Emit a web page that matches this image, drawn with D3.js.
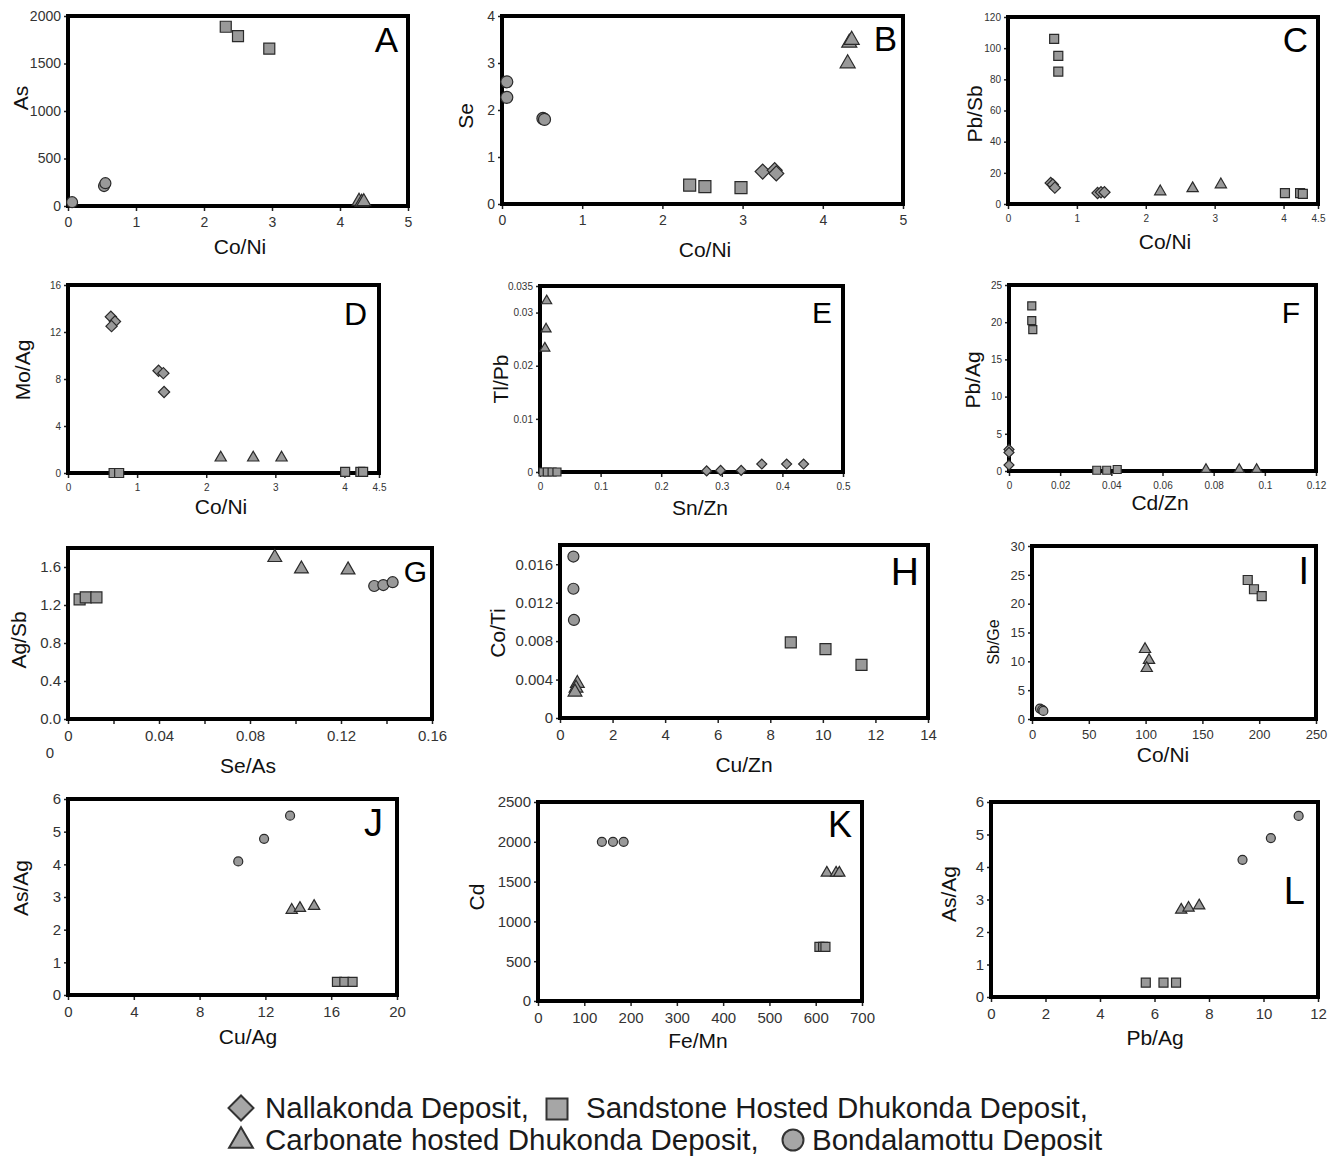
<!DOCTYPE html>
<html>
<head>
<meta charset="utf-8">
<script src="https://cdn.jsdelivr.net/npm/d3@7"></script>
<style>
body { margin: 0; background: #fff; }
svg { display: block; }
text { font-family: "Liberation Sans", Arial, sans-serif; }
</style>
</head>
<body>
<div id="chart"></div>
<script>
// group codes: N = Nallakonda, S = Sandstone hosted Dhukonda, C = Carbonate hosted Dhukonda, B = Bondalamottu
const ptsA = [["B",0.06,40],["B",0.53,210],["B",0.55,240],["S",2.32,1887],["S",2.50,1789],["S",2.96,1656],["C",4.28,50],["C",4.32,40],["C",4.35,45]];
const ptsB = [["B",0.06,2.60],["B",0.06,2.27],["B",0.51,1.82],["B",0.53,1.80],["S",2.34,0.40],["S",2.53,0.37],["S",2.98,0.35],["N",3.25,0.69],["N",3.40,0.72],["N",3.42,0.65],["C",4.31,2.99],["C",4.33,3.43],["C",4.36,3.49]];
const ptsC = [["S",0.67,106],["S",0.73,95],["S",0.73,85],["N",0.62,13.5],["N",0.65,12.5],["N",0.68,10.5],["N",1.30,7],["N",1.35,7.5],["N",1.40,7.5],["C",2.21,8],["C",2.68,10],["C",3.09,12.5],["S",4.02,7],["S",4.24,7],["S",4.28,6.5]];
const ptsD = [["N",0.62,13.3],["N",0.68,12.9],["N",0.63,12.5],["N",1.31,8.7],["N",1.38,8.5],["N",1.39,6.9],["C",2.21,1.3],["C",2.68,1.3],["C",3.09,1.3],["S",0.66,0],["S",0.74,0],["S",4.01,0.1],["S",4.23,0.1],["S",4.27,0.1]];
const ptsE = [["C",0.011,0.0322],["C",0.010,0.0269],["C",0.008,0.0233],["S",0.005,0],["S",0.012,0],["S",0.02,0],["S",0.028,0],["N",0.275,0.0002],["N",0.298,0.0003],["N",0.332,0.0003],["N",0.366,0.0015],["N",0.407,0.0015],["N",0.435,0.0015]];
const ptsF = [["S",0.0089,22.2],["S",0.0089,20.2],["S",0.0093,19.0],["N",0,2.9],["N",0,2.5],["N",0,0.8],["S",0.0343,0.1],["S",0.0382,0.1],["S",0.0423,0.2],["C",0.077,0.2],["C",0.090,0.2],["C",0.0968,0.2]];
const ptsG = [["S",0.0051,1.26],["S",0.0078,1.28],["S",0.0125,1.28],["C",0.0909,1.70],["C",0.1026,1.58],["C",0.1231,1.57],["B",0.1346,1.40],["B",0.1386,1.41],["B",0.1427,1.44]];
const ptsH = [["B",0.51,0.0168],["B",0.51,0.01345],["B",0.53,0.0102],["C",0.66,0.0036],["C",0.61,0.0031],["C",0.57,0.0027],["S",8.78,0.00786],["S",10.10,0.00716],["S",11.47,0.00552]];
const ptsI = [["B",7,1.8],["B",9,1.6],["B",10,1.4],["C",99.5,12.1],["C",103,10.2],["C",101,8.8],["S",189.9,24.1],["S",195.4,22.5],["S",202.2,21.3]];
const ptsJ = [["B",10.35,4.09],["B",11.92,4.78],["B",13.5,5.49],["C",13.6,2.6],["C",14.1,2.66],["C",14.96,2.72],["S",16.35,0.4],["S",16.8,0.4],["S",17.3,0.4]];
const ptsK = [["B",138,2000],["B",162,2000],["B",185,2000],["C",624,1610],["C",644,1610],["C",651,1610],["S",608,680],["S",616,680],["S",621,680]];
const ptsL = [["B",9.23,4.22],["B",10.27,4.89],["B",11.29,5.57],["C",6.98,2.68],["C",7.25,2.74],["C",7.64,2.81],["S",5.68,0.44],["S",6.33,0.44],["S",6.79,0.44]];

// tick values and labels
const xTicksA = [0,1,2,3,4,5], yTicksA = [0,500,1000,1500,2000];
const xTicksB = [0,1,2,3,4,5], yTicksB = [0,1,2,3,4];
const xTicksC = [0,1,2,3,4,4.5], yTicksC = [0,20,40,60,80,100,120];
const xTicksD = [0,1,2,3,4,4.5], yTicksD = [0,4,8,12,16];
const xTicksE = [0,0.1,0.2,0.3,0.4,0.5], yTicksE = [0,0.01,0.02,0.03,0.035];
const xTicksF = [0,0.02,0.04,0.06,0.08,0.1,0.12], yTicksF = [0,5,10,15,20,25];
const xTicksG = [0,0.02,0.04,0.06,0.08,0.1,0.12,0.14,0.16], yTicksG = [0,0.4,0.8,1.2,1.6];
const xLabelsG = ["0","","0.04","","0.08","","0.12","","0.16"], yLabelsG = ["0.0","0.4","0.8","1.2","1.6"];
const xTicksH = [0,2,4,6,8,10,12,14], yTicksH = [0,0.004,0.008,0.012,0.016];
const xTicksI = [0,50,100,150,200,250], yTicksI = [0,5,10,15,20,25,30];
const xTicksJ = [0,4,8,12,16,20], yTicksJ = [0,1,2,3,4,5,6];
const xTicksK = [0,100,200,300,400,500,600,700], yTicksK = [0,500,1000,1500,2000,2500];
const xTicksL = [0,2,4,6,8,10,12], yTicksL = [0,1,2,3,4,5,6];

const legendNames = ["Nallakonda Deposit,", "Sandstone Hosted Dhukonda Deposit,", "Carbonate hosted Dhukonda Deposit,", "Bondalamottu Deposit"];

// layout for each panel
const panels = [
  {id:"A", pts:ptsA, box:[68,16,408,206], xd:[0,5], yd:[0,2000], xt:xTicksA, yt:yTicksA, xTitle:"Co/Ni", yTitle:"As", tf:14, ms:11, tx:240, ty:254, yx:20, yy:98, lx:398, ly:52, lf:35},
  {id:"B", pts:ptsB, box:[502,16,903,204], xd:[0,5], yd:[0,4], xt:xTicksB, yt:yTicksB, xTitle:"Co/Ni", yTitle:"Se", tf:14, ms:12, tx:705, ty:257, yx:465, yy:116, lx:897, ly:51, lf:35},
  {id:"C", pts:ptsC, box:[1008,17,1318,204], xd:[0,4.5], yd:[0,120], xt:xTicksC, yt:yTicksC, xTitle:"Co/Ni", yTitle:"Pb/Sb", tf:10, ms:9, tx:1165, ty:249, yx:974, yy:114, lx:1308, ly:52, lf:35},
  {id:"D", pts:ptsD, box:[68,285,379,473], xd:[0,4.5], yd:[0,16], xt:xTicksD, yt:yTicksD, xTitle:"Co/Ni", yTitle:"Mo/Ag", tf:10, ms:9, tx:221, ty:514, yx:22, yy:370, lx:367, ly:325, lf:32},
  {id:"E", pts:ptsE, box:[540,286,843,472], xd:[0,0.5], yd:[0,0.035], xt:xTicksE, yt:yTicksE, xTitle:"Sn/Zn", yTitle:"Tl/Pb", tf:10, ms:8, tx:700, ty:515, yx:500, yy:379, lx:832, ly:323, lf:30},
  {id:"F", pts:ptsF, box:[1009,285,1316,471], xd:[0,0.12], yd:[0,25], xt:xTicksF, yt:yTicksF, xTitle:"Cd/Zn", yTitle:"Pb/Ag", tf:10, ms:8, tx:1160, ty:510, yx:972, yy:380, lx:1300, ly:323, lf:30},
  {id:"G", pts:ptsG, box:[68,548,432,719], xd:[0,0.16], yd:[0,1.8], xt:xTicksG, yt:yTicksG, xl:xLabelsG, yl:yLabelsG, xTitle:"Se/As", yTitle:"Ag/Sb", tf:15, ms:11, tx:248, ty:773, yx:18, yy:640, lx:427, ly:582, lf:30},
  {id:"H", pts:ptsH, box:[560,545,928,718], xd:[0,14], yd:[0,0.018], xt:xTicksH, yt:yTicksH, xTitle:"Cu/Zn", yTitle:"Co/Ti", tf:15, ms:11, tx:744, ty:772, yx:497, yy:633, lx:919, ly:585, lf:39},
  {id:"I", pts:ptsI, box:[1032,546,1316,719], xd:[0,250], yd:[0,30], xt:xTicksI, yt:yTicksI, xTitle:"Co/Ni", yTitle:"Sb/Ge", tf:13, ms:9, tx:1163, ty:762, yx:993, yy:642, lx:1309, ly:584, lf:38},
  {id:"J", pts:ptsJ, box:[68,799,397,995], xd:[0,20], yd:[0,6], xt:xTicksJ, yt:yTicksJ, xTitle:"Cu/Ag", yTitle:"As/Ag", tf:15, ms:9, tx:248, ty:1044, yx:20, yy:888, lx:383, ly:836, lf:38},
  {id:"K", pts:ptsK, box:[538,802,862,1001], xd:[0,700], yd:[0,2500], xt:xTicksK, yt:yTicksK, xTitle:"Fe/Mn", yTitle:"Cd", tf:15, ms:9, tx:698, ty:1048, yx:476, yy:897, lx:852, ly:837, lf:36},
  {id:"L", pts:ptsL, box:[991,802,1318,997], xd:[0,12], yd:[0,6], xt:xTicksL, yt:yTicksL, xTitle:"Pb/Ag", yTitle:"As/Ag", tf:15, ms:9, tx:1155, ty:1045, yx:948, yy:894, lx:1305, ly:904, lf:38}
];

const width = 1340, height = 1157;
const svg = d3.select("#chart").append("svg").attr("width", width).attr("height", height);

function markPath(grp, s) {
  if (grp === "S") return d3.symbol(d3.symbolSquare, s * s)();
  if (grp === "N") return d3.symbol(d3.symbolSquare, s * s * 0.78)();
  if (grp === "C") return d3.symbol(d3.symbolTriangle, s * s * 0.68)();
  return d3.symbol(d3.symbolCircle, Math.PI * s * s / 4)();
}

panels.forEach(p => {
  const g = svg.append("g").attr("class", "panel-" + p.id);
  const [x0, y0, x1, y1] = p.box;
  const x = d3.scaleLinear().domain(p.xd).range([x0, x1]);
  const y = d3.scaleLinear().domain(p.yd).range([y1, y0]);
  const fmt = d3.format("~g");

  const xa = g.append("g").attr("transform", `translate(0,${y1})`)
    .call(d3.axisBottom(x).tickValues(p.xt).tickSizeOuter(0).tickSize(5).tickPadding(6)
      .tickFormat((d, i) => p.xl ? p.xl[i] : fmt(d)));
  const ya = g.append("g").attr("transform", `translate(${x0},0)`)
    .call(d3.axisLeft(y).tickValues(p.yt).tickSizeOuter(0).tickSize(4).tickPadding(3)
      .tickFormat((d, i) => p.yl ? p.yl[i] : fmt(d)));
  [xa, ya].forEach(a => {
    a.select(".domain").remove();
    a.selectAll(".tick line").attr("stroke", "#222").attr("stroke-width", 1.5);
    a.selectAll(".tick text").attr("fill", "#333").style("font-size", p.tf + "px")
      .style("font-family", '"Liberation Sans", Arial, sans-serif');
  });

  g.append("rect").attr("x", x0).attr("y", y0).attr("width", x1 - x0).attr("height", y1 - y0)
    .attr("fill", "none").attr("stroke", "#000").attr("stroke-width", 4);

  g.selectAll("path.mark").data(p.pts).enter().append("path").attr("class", "mark")
    .attr("d", d => markPath(d[0], p.ms))
    .attr("transform", d => `translate(${x(d[1])},${y(d[2])})` + (d[0] === "N" ? " rotate(45)" : ""))
    .attr("fill", "#999").attr("stroke", "#2a2a2a").attr("stroke-width", 1.2);

  g.append("text").attr("x", p.tx).attr("y", p.ty).attr("text-anchor", "middle")
    .style("font-size", "21px").attr("fill", "#111").text(p.xTitle);
  g.append("text").attr("transform", `translate(${p.yx},${p.yy}) rotate(-90)`)
    .attr("text-anchor", "middle").attr("dominant-baseline", "central")
    .style("font-size", (p.id === "I" ? 16 : 21) + "px").attr("fill", "#111").text(p.yTitle);
  g.append("text").attr("x", p.lx).attr("y", p.ly).attr("text-anchor", "end")
    .style("font-size", p.lf + "px").attr("fill", "#000").text(p.id);
});

// stray zero under panel G
svg.append("text").attr("x", 50).attr("y", 758).attr("text-anchor", "middle")
  .style("font-size", "15px").attr("fill", "#333").text("0");

// legend
const legend = svg.append("g").attr("class", "legend");
const legendItems = [
  {grp:"N", sx:241, sy:1108, tx:265, ty:1118, s:20},
  {grp:"S", sx:557, sy:1109, tx:586, ty:1118, s:21},
  {grp:"C", sx:241, sy:1141, tx:265, ty:1150, s:19},
  {grp:"B", sx:793, sy:1140, tx:812, ty:1150, s:21}
];
legendItems.forEach((it, i) => {
  legend.append("path").attr("d", markPath(it.grp, it.s))
    .attr("transform", `translate(${it.sx},${it.sy})` + (it.grp === "N" ? " rotate(45)" : ""))
    .attr("fill", "#a6a6a6").attr("stroke", "#333").attr("stroke-width", 2);
  legend.append("text").attr("x", it.tx).attr("y", it.ty)
    .style("font-size", "29.5px").attr("fill", "#1a1a1a").text(legendNames[i]);
});
</script>
</body>
</html>
